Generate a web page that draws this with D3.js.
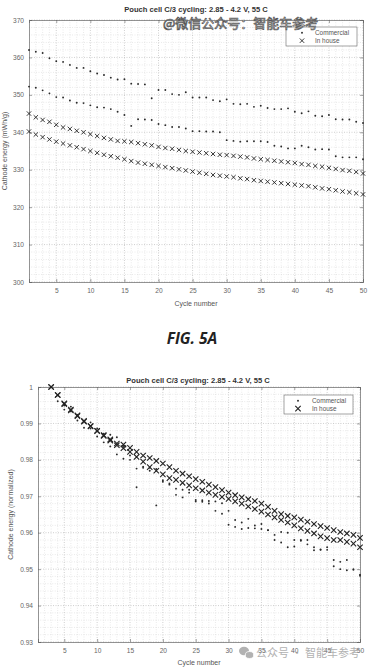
<!DOCTYPE html>
<html><head><meta charset="utf-8">
<script src="https://cdn.jsdelivr.net/npm/d3@7"></script>
<style>body{margin:0;background:#fff}svg{display:block}</style>
</head><body><svg id="c" width="371" height="668"></svg>
<script>
// ---------- Data: FIG. 5A (absolute cathode energy, mWh/g) ----------
const cyclesA = d3.range(1, 51);
const commercialUpperA = [362.0,361.5,361.2,359.8,359.0,358.8,358.0,357.2,357.2,356.3,
  355.7,355.3,354.6,354.1,354.2,353.0,352.9,352.8,349.1,351.3,
  351.3,350.2,350.0,350.7,349.3,349.3,349.3,348.6,348.3,348.8,
  347.6,347.5,347.6,346.8,347.1,346.5,346.2,346.2,346.4,345.5,
  345.1,345.6,344.4,344.3,344.6,343.5,343.4,343.4,342.8,342.5];
const commercialLowerA = [352.2,351.9,351.2,350.4,349.4,349.3,348.5,347.9,347.8,347.2,
  346.7,346.6,346.2,345.5,344.6,341.7,343.5,343.4,343.3,342.2,
  341.9,341.4,341.4,341.0,340.3,340.3,340.2,340.2,340.0,337.9,
  337.7,337.5,337.6,337.6,337.6,337.4,336.4,336.2,335.7,335.7,
  336.4,336.0,335.4,335.5,335.4,333.6,333.3,333.3,333.3,332.8];
const inHouseUpperA = [345.0,344.0,343.3,342.8,342.0,341.3,340.9,340.4,340.0,339.5,
  339.0,338.5,338.1,337.7,337.6,337.4,337.1,336.8,336.5,336.1,
  335.8,335.6,335.3,335.0,334.8,334.6,334.4,334.2,334.0,333.9,
  333.7,333.5,333.3,333.0,332.8,332.6,332.4,332.2,332.0,331.8,
  331.5,331.3,331.0,330.8,330.5,330.2,329.9,329.7,329.4,329.0];
const inHouseLowerA = [340.2,339.4,338.7,338.1,337.5,337.0,336.5,336.0,335.5,335.0,
  334.5,334.0,333.6,333.2,332.8,332.3,331.9,331.6,331.3,331.0,
  330.7,330.4,330.1,329.8,329.5,329.2,328.9,328.6,328.4,328.2,
  328.0,327.7,327.5,327.2,327.0,326.8,326.6,326.4,326.2,326.0,
  325.8,325.6,325.3,325.0,324.8,324.5,324.2,324.0,323.7,323.4];
const yTicksA = [300,310,320,330,340,350,360,370];
const yTickLabelsA = ["300","310","320","330","340","350","360","370"];
const xTicks = [5,10,15,20,25,30,35,40,45,50];

// ---------- Data: FIG. 5B (normalized cathode energy) ----------
const cyclesB = d3.range(3, 51);
const commercial1B = [1.0,0.9961,0.9938,0.9933,0.9908,0.9888,0.9886,0.9864,0.9848,0.9837,
  0.9815,0.9803,0.9800,0.9776,0.9778,0.9770,0.9675,0.9740,0.9732,0.9704,
  0.9697,0.9718,0.9686,0.9685,0.9680,0.9660,0.9652,0.9660,0.9635,0.9628,
  0.9638,0.9620,0.9624,0.9607,0.9594,0.9602,0.9600,0.9580,0.9578,0.9580,
  0.9560,0.9554,0.9560,0.9525,0.9520,0.9525,0.9500,0.9482];
const commercial2B = [1.0,0.9977,0.9949,0.9946,0.9923,0.9906,0.9903,0.9886,0.9872,0.9869,
  0.9862,0.9838,0.9812,0.9725,0.9781,0.9778,0.9775,0.9744,0.9735,0.9721,
  0.9718,0.9710,0.9690,0.9689,0.9687,0.9686,0.9681,0.9622,0.9616,0.9610,
  0.9613,0.9612,0.9610,0.9607,0.9580,0.9573,0.9560,0.9562,0.9580,0.9568,
  0.9552,0.9553,0.9553,0.9508,0.9500,0.9497,0.9498,0.9485];
const inHouse1B = [1.0,0.9978,0.9955,0.9938,0.9922,0.9907,0.9893,0.9880,0.9868,0.9856,
  0.9845,0.9842,0.9833,0.9822,0.9812,0.9805,0.9797,0.9790,0.9780,0.9770,
  0.9762,0.9755,0.9747,0.9740,0.9732,0.9725,0.9717,0.9710,0.9703,0.9697,
  0.9692,0.9687,0.9680,0.9671,0.9660,0.9651,0.9646,0.9642,0.9636,0.9630,
  0.9624,0.9618,0.9613,0.9607,0.9602,0.9598,0.9594,0.9586];
const inHouse2B = [1.0,0.9978,0.9953,0.9936,0.9920,0.9905,0.9892,0.9879,0.9866,0.9853,
  0.9840,0.9832,0.9822,0.9808,0.9795,0.9780,0.9770,0.9760,0.9750,0.9745,
  0.9737,0.9730,0.9722,0.9716,0.9710,0.9704,0.9698,0.9693,0.9686,0.9680,
  0.9672,0.9665,0.9658,0.9650,0.9642,0.9635,0.9628,0.9620,0.9612,0.9605,
  0.9598,0.9590,0.9585,0.9580,0.9580,0.9575,0.9570,0.9560];
const yTicksB = [0.93,0.94,0.95,0.96,0.97,0.98,0.99,1.0];
const yTickLabelsB = ["0.93","0.94","0.95","0.96","0.97","0.98","0.99","1"];

const titleText = "Pouch cell C/3 cycling: 2.85 - 4.2 V, 55 C";
const legendLabels = ["Commercial", "In house"];

const svg = d3.select("#c");
const FONT = "'Liberation Sans', Arial, sans-serif";
const TXT = "#444";

function panel(o) {
  const x = d3.scaleLinear().domain([1, 50]).range([o.left, o.right]);
  const y = d3.scaleLinear().domain(o.yDomain).range([o.bottom, o.top]);
  const g = svg.append("g");

  // minor grid
  const minorX = d3.range(2, 50).filter(v => v % 5 !== 0);
  g.append("g").selectAll("line").data(minorX).join("line")
    .attr("x1", d => x(d)).attr("x2", d => x(d)).attr("y1", o.top).attr("y2", o.bottom)
    .attr("stroke", "#d4d4d4").attr("stroke-width", 0.6).attr("stroke-dasharray", "0.8,1.6");
  g.append("g").selectAll("line").data(o.minorY).join("line")
    .attr("y1", d => y(d)).attr("y2", d => y(d)).attr("x1", o.left).attr("x2", o.right)
    .attr("stroke", "#d4d4d4").attr("stroke-width", 0.6).attr("stroke-dasharray", "0.8,1.6");
  // major grid
  g.append("g").selectAll("line").data(xTicks).join("line")
    .attr("x1", d => x(d)).attr("x2", d => x(d)).attr("y1", o.top).attr("y2", o.bottom)
    .attr("stroke", "#b0b0b0").attr("stroke-width", 0.6).attr("stroke-dasharray", "1,1.5");
  g.append("g").selectAll("line").data(o.yTicks).join("line")
    .attr("y1", d => y(d)).attr("y2", d => y(d)).attr("x1", o.left).attr("x2", o.right)
    .attr("stroke", "#b0b0b0").attr("stroke-width", 0.6).attr("stroke-dasharray", "1,1.5");

  // axes
  const ax = g.append("g").attr("transform", `translate(0,${o.bottom})`)
    .call(d3.axisBottom(x).tickValues(xTicks).tickSize(-3).tickPadding(6));
  const ay = g.append("g").attr("transform", `translate(${o.left},0)`)
    .call(d3.axisLeft(y).tickValues(o.yTicks).tickFormat((d, i) => o.yLabels[i]).tickSize(-3).tickPadding(5));
  g.append("g").attr("transform", `translate(0,${o.top})`)
    .call(d3.axisTop(x).tickValues(xTicks).tickSize(-3).tickFormat(""));
  g.append("g").attr("transform", `translate(${o.right},0)`)
    .call(d3.axisRight(y).tickValues(o.yTicks).tickSize(-3).tickFormat(""));
  g.selectAll(".domain").attr("stroke", "#666").attr("stroke-width", 0.7);
  g.selectAll(".tick line").attr("stroke", "#666").attr("stroke-width", 0.6);
  g.selectAll(".tick text").attr("font-family", FONT).attr("font-size", 6.6).attr("fill", "#666");

  // title and labels
  g.append("text").attr("x", o.titleX).attr("y", o.titleY).attr("text-anchor", "middle")
    .attr("font-family", FONT).attr("font-weight", "bold").attr("font-size", 7.6).attr("fill", "#333")
    .text(titleText);
  g.append("text").attr("x", (o.left + o.right) / 2).attr("y", o.xLabelY).attr("text-anchor", "middle")
    .attr("font-family", FONT).attr("font-size", 7).attr("fill", "#555").text("Cycle number");
  g.append("text").attr("transform", `translate(${o.yLabelX},${(o.top + o.bottom) / 2}) rotate(-90)`)
    .attr("text-anchor", "middle").attr("font-family", FONT).attr("font-size", 7).attr("fill", "#555")
    .text(o.yLabel);

  const xPath = s => `M${-s},${-s}L${s},${s}M${-s},${s}L${s},${-s}`;
  // data
  o.dots.forEach(series => {
    g.append("g").selectAll("circle").data(series).join("circle")
      .attr("cx", (d, i) => x(o.cycles[i])).attr("cy", d => y(d))
      .attr("r", o.dotR).attr("fill", "#2a2a2a");
  });
  o.crosses.forEach(series => {
    g.append("g").selectAll("path").data(series).join("path")
      .attr("transform", (d, i) => `translate(${x(o.cycles[i])},${y(d)})`)
      .attr("d", xPath(o.xs)).attr("stroke", "#222").attr("stroke-width", o.xw).attr("fill", "none");
  });

  // legend
  const L = o.legend;
  g.append("rect").attr("x", L.x).attr("y", L.y).attr("width", L.w).attr("height", L.h)
    .attr("fill", "#fff").attr("stroke", "#666").attr("stroke-width", 0.6);
  g.append("circle").attr("cx", L.mx).attr("cy", L.y + L.h * 0.3).attr("r", o.dotR).attr("fill", "#2a2a2a");
  g.append("path").attr("transform", `translate(${L.mx},${L.y + L.h * 0.72})`)
    .attr("d", xPath(o.xs)).attr("stroke", "#222").attr("stroke-width", o.xw);
  legendLabels.forEach((t, i) => {
    g.append("text").attr("x", L.tx).attr("y", L.y + L.h * (i ? 0.72 : 0.3) + 2.2)
      .attr("font-family", FONT).attr("font-size", 6.4).attr("fill", "#555").text(t);
  });
  return g;
}

panel({
  left: 29, right: 363, top: 20, bottom: 282,
  yDomain: [300, 370], yTicks: yTicksA, yLabels: yTickLabelsA,
  minorY: d3.range(302, 370, 2).filter(v => v % 10 !== 0),
  cycles: cyclesA,
  dots: [commercialUpperA, commercialLowerA],
  crosses: [inHouseUpperA, inHouseLowerA],
  dotR: 0.95, xs: 2.2, xw: 0.9,
  titleX: 196, titleY: 12, xLabelY: 306, yLabelX: 7,
  yLabel: "Cathode energy (mWh/g)",
  legend: {x: 286, y: 27, w: 71, h: 19, mx: 302, tx: 315}
});

panel({
  left: 38, right: 360, top: 387, bottom: 642,
  yDomain: [0.93, 1.0], yTicks: yTicksB, yLabels: yTickLabelsB,
  minorY: [0.932,0.934,0.936,0.938,0.942,0.944,0.946,0.948,0.952,0.954,0.956,0.958,0.962,0.964,0.966,0.968,0.972,0.974,0.976,0.978,0.982,0.984,0.986,0.988,0.992,0.994,0.996,0.998],
  cycles: cyclesB,
  dots: [commercial1B, commercial2B],
  crosses: [inHouse1B, inHouse2B],
  dotR: 0.95, xs: 2.7, xw: 1.1,
  titleX: 198, titleY: 383, xLabelY: 665, yLabelX: 13,
  yLabel: "Cathode energy (normalized)",
  legend: {x: 284, y: 395, w: 69, h: 19, mx: 298, tx: 312}
});

// figure caption
svg.append("text").attr("x", 192).attr("y", 344).attr("text-anchor", "middle")
  .attr("font-family", "'Open Sans', Lato, sans-serif").attr("font-style", "italic").attr("font-weight", "bold")
  .attr("font-size", 15.5).attr("fill", "#222").text("FIG. 5A");

// watermarks
svg.append("text").attr("x", 163).attr("y", 28)
  .attr("font-family", "'Noto Sans CJK SC', sans-serif").attr("font-size", 13)
  .attr("fill", "#fff").attr("stroke", "#555").attr("stroke-width", 0.7)
  .text("@微信公众号：智能车参考");
const wm = svg.append("g").attr("opacity", 0.75);
wm.append("ellipse").attr("cx", 244).attr("cy", 651).attr("rx", 5).attr("ry", 4.2).attr("fill", "#999");
wm.append("ellipse").attr("cx", 249.5).attr("cy", 655).attr("rx", 4.2).attr("ry", 3.5).attr("fill", "#999").attr("stroke", "#fff").attr("stroke-width", 0.8);
wm.append("text").attr("x", 256).attr("y", 657)
  .attr("font-family", "'Noto Sans CJK SC', sans-serif").attr("font-size", 11).attr("fill", "#999")
  .text("公众号 · 智能车参考");
</script></body></html>
